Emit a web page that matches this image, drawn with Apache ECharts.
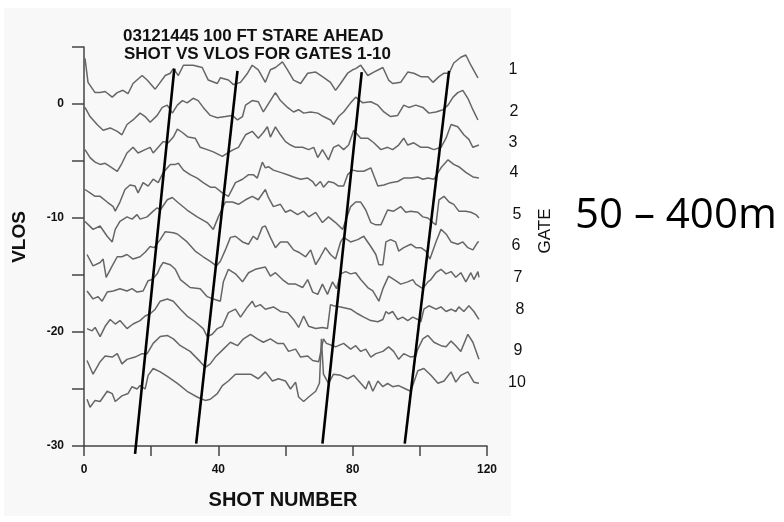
<!DOCTYPE html>
<html>
<head>
<meta charset="utf-8">
<script src="https://cdn.jsdelivr.net/npm/echarts@6/dist/echarts.min.js"></script>
<style>
html,body{margin:0;padding:0;background:#fff;}
#chart{width:784px;height:522px;}
</style>
</head>
<body>
<div id="chart"></div>
<script>
// ---- data: [shot number, VLOS] ----
const titleLines = ['03121445 100 FT STARE AHEAD', 'SHOT VS VLOS FOR GATES 1-10'];
const xTickLabels = [0, 40, 80, 120];
const yTickLabels = [0, -10, -20, -30];
const gateNames = ['1','2','3','4','5','6','7','8','9','10'];

const gate1 = [[0.3,4.0],[1.2,1.9],[3.3,1.0],[4.8,1.0],[6.3,1.1],[8.4,0.6],[9.9,1.0],[11.6,1.2],[13.1,0.9],[14.6,1.8],[17.3,2.5],[18.8,2.1],[21.2,1.3],[22.7,1.9],[24.2,2.5],[25.7,2.7],[26.6,3.1],[28.1,2.5],[29.6,3.4],[32.5,3.4],[35.2,3.2],[37.0,2.1],[39.7,1.8],[40.6,2.3],[43.0,2.1],[44.5,1.7],[46.6,1.9],[48.7,2.7],[50.1,3.4],[51.9,3.0],[54.0,1.9],[55.5,3.0],[57.0,3.2],[59.1,3.7],[60.6,3.0],[62.4,2.1],[64.5,1.8],[66.6,2.7],[69.0,2.8],[71.0,2.4],[73.4,1.9],[74.9,1.2],[76.4,1.8],[78.5,2.7],[80.0,3.0],[80.9,3.1],[82.4,3.4],[84.5,2.5],[86.3,2.8],[89.0,3.2],[90.7,2.1],[91.9,1.8],[94.3,1.9],[96.4,2.8],[98.2,2.7],[100.3,2.4],[102.4,2.4],[103.9,1.9],[105.7,2.4],[107.2,2.7],[108.7,2.7],[110.1,3.6],[112.2,4.1],[113.7,4.3],[115.2,3.4],[117.3,2.3]];
const gate2 = [[0.3,-0.3],[1.8,-1.1],[3.9,-1.8],[5.7,-2.3],[7.8,-2.1],[9.9,-2.4],[11.3,-2.7],[12.8,-1.8],[14.6,-1.4],[16.7,-0.8],[18.2,-1.1],[19.7,-1.6],[21.8,-1.0],[23.3,-0.3],[24.8,-0.1],[26.3,-0.8],[27.8,-0.1],[29.3,0.3],[30.7,0.1],[32.5,0.5],[34.0,0.3],[35.5,-0.3],[37.6,-1.0],[39.7,-1.2],[42.1,-1.1],[44.2,-1.0],[45.7,-1.4],[47.2,-1.1],[48.1,-0.1],[50.1,0.3],[51.9,0.2],[53.4,-0.7],[55.5,0.3],[57.0,1.0],[58.5,0.3],[60.6,-0.3],[62.4,-0.7],[63.9,-0.5],[65.4,-0.8],[67.5,-0.7],[69.6,-0.8],[71.3,-1.1],[73.4,-1.4],[74.3,-1.8],[75.8,-1.1],[77.3,-0.7],[79.4,0.1],[80.9,0.6],[83.0,0.1],[85.4,0.2],[87.5,-0.1],[89.3,-0.7],[91.3,-1.1],[93.4,-1.0],[95.2,-0.1],[96.7,-0.3],[98.8,-0.1],[100.9,-0.3],[102.7,-0.8],[104.8,-0.7],[106.9,-0.5],[108.4,-0.1],[109.9,0.6],[111.3,1.0],[112.8,1.2],[114.3,0.5],[115.8,-0.5],[117.3,-1.4]];
const gate3 = [[0.3,-4.0],[1.8,-4.7],[3.3,-5.1],[4.8,-5.3],[6.3,-5.2],[7.8,-5.5],[9.9,-5.9],[11.3,-5.2],[12.8,-4.3],[14.6,-3.8],[16.1,-4.3],[18.2,-4.0],[19.7,-3.8],[20.6,-4.3],[22.1,-3.8],[23.6,-3.3],[25.1,-3.4],[26.6,-2.9],[27.8,-2.2],[29.3,-2.5],[31.0,-2.9],[33.1,-3.0],[34.6,-3.8],[36.7,-4.0],[38.5,-4.2],[41.2,-4.6],[42.7,-4.3],[44.5,-4.0],[46.0,-3.8],[48.1,-2.7],[50.1,-2.4],[51.9,-3.0],[53.4,-2.5],[54.6,-2.0],[55.5,-2.9],[57.0,-2.0],[58.5,-2.7],[60.0,-3.3],[61.5,-3.6],[63.0,-3.8],[65.1,-3.8],[66.9,-4.0],[68.4,-3.8],[69.6,-4.7],[71.0,-4.0],[72.8,-4.9],[74.3,-3.8],[75.8,-3.6],[77.3,-4.0],[78.8,-3.6],[80.3,-2.3],[82.4,-3.0],[84.5,-3.0],[86.3,-3.4],[88.4,-4.0],[90.4,-3.8],[91.9,-4.0],[93.7,-3.6],[95.2,-3.0],[96.4,-3.6],[98.2,-3.4],[100.3,-3.8],[102.4,-3.8],[104.2,-4.0],[106.3,-3.8],[107.8,-3.0],[109.3,-1.8],[111.3,-2.0],[113.1,-2.7],[114.6,-3.1],[115.8,-3.8],[117.6,-3.6]];
const gate4 = [[0.3,-7.5],[1.8,-7.8],[3.3,-8.1],[4.8,-8.1],[6.9,-8.6],[8.7,-9.0],[9.3,-9.4],[10.7,-8.6],[12.2,-7.5],[13.7,-7.1],[15.2,-7.2],[16.1,-7.8],[17.6,-6.9],[19.1,-7.2],[20.6,-6.6],[22.1,-6.9],[23.6,-6.0],[25.7,-5.3],[27.2,-5.3],[28.1,-5.2],[29.6,-5.8],[31.6,-6.2],[33.7,-6.5],[35.5,-6.9],[37.6,-7.3],[39.1,-7.3],[41.2,-7.8],[43.0,-8.1],[45.1,-6.9],[47.2,-6.6],[49.0,-6.2],[50.4,-6.2],[51.6,-6.5],[53.1,-5.1],[54.0,-5.6],[54.9,-5.5],[56.4,-5.8],[58.5,-6.0],[60.6,-6.2],[62.4,-6.4],[64.5,-6.6],[66.6,-6.5],[68.1,-6.8],[69.0,-7.2],[70.4,-6.8],[71.3,-7.3],[72.8,-6.8],[74.3,-6.9],[75.8,-7.2],[77.3,-7.2],[78.5,-6.2],[80.0,-5.8],[81.5,-5.9],[83.3,-5.9],[85.4,-5.6],[87.5,-7.2],[89.3,-7.1],[91.3,-6.9],[93.4,-6.8],[95.2,-6.5],[97.3,-6.5],[99.4,-6.4],[100.9,-6.6],[102.4,-6.5],[104.2,-6.6],[106.3,-5.6],[108.4,-4.9],[110.1,-5.3],[111.6,-5.5],[113.7,-6.0],[115.8,-6.4],[117.6,-6.5]];
const gate5 = [[0.3,-10.3],[2.7,-11.0],[4.8,-10.7],[6.9,-11.6],[8.4,-12.1],[9.3,-11.0],[10.7,-10.3],[12.8,-9.9],[14.3,-10.1],[15.8,-9.7],[16.7,-10.1],[18.8,-9.9],[20.6,-9.4],[21.8,-9.1],[22.7,-9.3],[24.8,-8.4],[26.3,-8.2],[27.8,-8.6],[30.7,-9.3],[33.7,-9.9],[36.7,-10.4],[38.5,-11.0],[40.0,-9.9],[42.1,-8.6],[44.2,-8.6],[46.0,-8.8],[48.1,-8.4],[50.1,-8.1],[51.9,-8.4],[54.0,-7.5],[54.9,-8.2],[56.4,-9.0],[58.5,-8.8],[60.0,-9.5],[61.5,-9.3],[63.6,-9.7],[65.4,-9.4],[66.9,-9.9],[69.0,-9.5],[71.0,-10.4],[72.8,-9.9],[74.9,-10.4],[77.0,-11.0],[79.4,-9.0],[80.9,-8.6],[82.4,-8.6],[83.9,-9.3],[85.4,-10.4],[86.9,-10.6],[88.4,-10.6],[90.4,-9.3],[92.2,-9.4],[94.3,-9.0],[95.8,-9.5],[97.3,-9.4],[99.4,-9.5],[100.9,-9.9],[102.4,-10.0],[103.9,-10.4],[104.8,-10.6],[105.7,-8.4],[107.2,-8.1],[108.7,-8.6],[110.1,-8.8],[111.6,-9.4],[113.7,-9.4],[115.2,-9.5],[116.7,-9.7],[117.6,-10.0]];
const gate6 = [[0.9,-13.2],[2.7,-14.2],[4.8,-13.9],[5.7,-13.6],[6.6,-15.2],[8.4,-14.2],[9.9,-13.4],[11.3,-13.4],[12.8,-13.2],[14.6,-13.6],[16.7,-13.4],[18.2,-13.0],[19.7,-12.5],[20.9,-12.6],[22.7,-11.9],[24.2,-11.2],[26.6,-11.3],[27.8,-11.4],[30.7,-12.1],[33.1,-12.9],[35.5,-13.4],[37.6,-13.8],[39.4,-14.2],[40.6,-13.8],[42.1,-12.8],[43.6,-11.7],[45.1,-11.6],[47.2,-12.1],[49.0,-12.3],[50.4,-11.6],[51.6,-11.9],[53.1,-10.8],[54.0,-10.7],[55.5,-11.7],[57.0,-12.6],[58.5,-12.1],[60.6,-12.1],[62.4,-12.8],[63.9,-13.0],[66.0,-13.4],[67.5,-12.8],[69.0,-14.1],[70.4,-13.4],[71.9,-12.6],[73.4,-13.2],[74.9,-13.6],[76.4,-12.1],[77.3,-11.7],[79.4,-12.1],[81.5,-11.9],[83.3,-11.6],[85.4,-12.5],[86.9,-13.2],[87.8,-14.1],[89.0,-14.1],[89.9,-12.1],[91.3,-11.9],[92.8,-12.1],[93.7,-12.9],[95.2,-12.6],[97.3,-12.3],[98.8,-12.6],[100.3,-12.6],[101.8,-12.9],[103.0,-13.6],[104.8,-12.1],[106.3,-11.0],[107.8,-11.4],[109.3,-12.1],[111.3,-12.3],[112.8,-12.1],[114.3,-12.6],[115.8,-12.8],[117.3,-12.1],[117.6,-12.1]];
const gate7 = [[0.9,-16.4],[2.7,-17.1],[4.2,-16.9],[5.4,-17.3],[6.9,-16.5],[8.7,-16.4],[10.7,-16.2],[12.8,-16.4],[14.3,-16.2],[15.8,-16.5],[17.6,-16.4],[19.1,-15.5],[20.3,-15.4],[21.8,-14.9],[22.7,-14.3],[23.6,-13.9],[25.7,-14.1],[27.2,-14.5],[28.7,-15.4],[31.6,-16.1],[34.6,-16.2],[36.7,-16.9],[38.5,-17.1],[40.6,-17.3],[41.5,-15.6],[43.0,-14.5],[45.1,-14.9],[47.2,-15.6],[49.0,-14.8],[51.0,-14.5],[54.0,-14.3],[55.5,-15.1],[57.0,-14.8],[59.1,-15.4],[60.9,-15.8],[63.0,-15.8],[65.1,-16.1],[66.6,-15.4],[68.1,-16.5],[69.6,-16.7],[71.0,-15.8],[72.5,-16.7],[74.0,-15.6],[75.2,-16.2],[76.4,-14.9],[77.9,-14.7],[79.4,-14.9],[80.9,-14.8],[82.4,-15.4],[84.5,-16.1],[86.0,-16.4],[87.8,-17.3],[89.0,-16.2],[90.7,-15.1],[92.8,-15.5],[94.3,-15.8],[96.4,-15.6],[97.9,-15.4],[98.8,-15.8],[100.9,-16.2],[102.4,-15.6],[103.3,-15.4],[104.8,-14.8],[106.3,-14.5],[107.8,-14.9],[109.3,-14.7],[110.7,-15.2],[112.2,-14.8],[113.7,-15.6],[115.2,-14.8],[116.1,-15.4],[117.3,-14.7],[117.6,-15.2]];
const gate8 = [[0.9,-19.7],[2.4,-19.9],[3.3,-19.6],[4.8,-20.4],[6.3,-19.5],[7.8,-18.9],[9.3,-19.3],[10.7,-19.0],[12.8,-19.7],[14.6,-19.3],[16.7,-19.0],[18.2,-18.6],[19.7,-18.4],[21.2,-18.0],[22.7,-17.3],[24.8,-17.1],[26.6,-17.3],[28.7,-18.0],[30.7,-18.6],[33.1,-19.1],[35.5,-19.7],[36.7,-20.4],[38.2,-20.2],[39.7,-19.7],[41.2,-19.5],[43.0,-18.3],[45.1,-18.0],[46.6,-18.7],[48.7,-17.8],[50.1,-17.3],[51.0,-17.8],[52.5,-17.6],[54.0,-18.0],[56.4,-17.8],[58.5,-18.2],[60.6,-18.3],[62.4,-18.9],[63.9,-19.6],[65.4,-18.6],[66.9,-19.5],[69.0,-19.7],[71.0,-19.6],[72.5,-19.7],[73.4,-17.6],[74.3,-17.7],[76.4,-17.8],[79.4,-18.0],[81.5,-18.4],[83.3,-18.7],[85.4,-19.0],[87.5,-19.1],[89.0,-18.9],[89.9,-18.2],[90.7,-18.4],[91.9,-18.2],[93.4,-18.9],[94.9,-18.7],[96.4,-19.0],[97.9,-18.7],[99.4,-18.9],[100.3,-19.1],[101.2,-18.0],[102.7,-17.7],[104.8,-18.0],[106.3,-17.8],[107.8,-18.2],[109.3,-18.0],[110.7,-18.2],[111.6,-17.8],[113.1,-18.2],[114.6,-17.7],[116.1,-18.2],[117.6,-18.9]];
const gate9 = [[0.9,-22.5],[2.7,-23.7],[4.8,-22.6],[6.3,-22.1],[8.4,-22.2],[9.9,-21.9],[11.3,-22.8],[12.8,-22.4],[15.2,-22.2],[17.3,-21.9],[18.8,-21.9],[20.6,-21.0],[22.7,-20.4],[24.8,-20.3],[26.6,-20.6],[28.7,-21.2],[31.6,-21.7],[34.6,-22.6],[36.1,-23.1],[37.6,-22.8],[39.1,-22.2],[41.5,-21.5],[43.6,-20.9],[45.7,-21.2],[47.5,-20.6],[49.6,-20.2],[51.6,-20.6],[53.4,-20.9],[55.5,-20.6],[57.6,-21.0],[59.4,-21.0],[60.9,-21.7],[63.0,-21.5],[64.5,-22.2],[66.6,-22.1],[68.1,-22.5],[69.9,-22.6],[71.3,-20.6],[72.2,-21.0],[74.9,-21.3],[77.3,-21.0],[79.4,-21.5],[80.9,-21.2],[82.4,-21.7],[83.9,-21.5],[85.4,-22.2],[86.9,-21.9],[89.0,-21.7],[90.7,-21.3],[92.2,-21.7],[93.7,-22.4],[95.2,-21.9],[97.3,-22.2],[98.8,-22.1],[99.4,-21.5],[100.9,-20.6],[102.4,-20.3],[104.2,-20.9],[106.3,-21.2],[107.8,-21.3],[109.3,-20.8],[110.7,-21.2],[112.2,-21.7],[114.3,-20.2],[115.8,-20.9],[117.6,-22.4]];
const gate10 = [[0.9,-25.9],[1.8,-26.6],[3.3,-26.0],[4.8,-26.1],[6.9,-25.2],[8.4,-25.4],[9.3,-26.1],[11.3,-25.6],[13.1,-25.4],[14.3,-24.8],[15.8,-25.0],[16.7,-24.7],[18.2,-25.0],[19.1,-23.8],[20.6,-23.2],[22.7,-23.5],[24.8,-23.9],[27.8,-24.5],[30.7,-25.2],[33.7,-25.7],[35.2,-25.9],[36.1,-26.0],[37.6,-25.9],[39.7,-25.4],[41.2,-24.7],[43.0,-24.3],[45.1,-23.7],[47.5,-23.7],[49.6,-23.7],[51.9,-24.1],[54.0,-23.5],[56.1,-24.3],[57.9,-24.1],[60.0,-24.3],[61.5,-25.0],[63.0,-24.4],[63.9,-25.7],[65.4,-26.1],[66.9,-25.7],[69.0,-25.2],[70.1,-24.5],[70.7,-20.6],[71.3,-23.7],[72.8,-24.5],[74.3,-23.7],[76.4,-23.8],[78.5,-24.1],[80.3,-23.8],[82.4,-24.5],[83.9,-25.0],[84.8,-24.3],[86.0,-25.2],[87.5,-24.3],[89.0,-24.8],[90.4,-24.5],[91.9,-24.8],[93.7,-24.7],[95.8,-25.0],[97.3,-25.2],[99.4,-23.4],[101.2,-23.2],[103.3,-23.8],[105.4,-24.5],[107.2,-24.3],[109.3,-23.5],[110.7,-24.4],[112.2,-23.8],[114.3,-23.5],[116.1,-24.4],[117.6,-24.5]];
const gates = [gate1, gate2, gate3, gate4, gate5, gate6, gate7, gate8, gate9, gate10];

// slanted guide lines drawn over the traces: [top, bottom] in [shot, VLOS]
const guide1 = [[26.9, 3.1], [15.2, -30.7]];
const guide2 = [[45.7, 2.9], [33.4, -29.8]];
const guide3 = [[82.7, 2.8], [71.0, -29.8]];
const guide4 = [[108.7, 2.9], [95.5, -29.8]];
const guides = [guide1, guide2, guide3, guide4];

// ---- chart ----
const chart = echarts.init(document.getElementById('chart'), null, {renderer: 'canvas'});
const tickFont = {fontFamily: 'Liberation Sans, Arial, sans-serif', fontWeight: 'bold', fontSize: 12, color: '#111'};

const series = [];
gates.forEach((g, i) => {
  series.push({
    name: 'Gate ' + gateNames[i], type: 'line', data: g, symbol: 'none', smooth: false,
    lineStyle: {color: '#666', width: 1.5}, silent: true, z: 2
  });
});
guides.forEach((g, i) => {
  series.push({
    name: 'guide' + (i + 1), type: 'line', data: g, symbol: 'none', clip: false,
    lineStyle: {color: '#000', width: 2.6}, silent: true, z: 5
  });
});

const gateLabelY = [70, 112, 143, 173, 215, 246, 278, 310, 351, 383];
const gateLabelX = [513, 514, 513, 514, 517, 516, 518, 520, 518, 517];
const graphics = [
  {type: 'rect', shape: {x: 4, y: 8, width: 507, height: 508}, style: {fill: '#f8f8f8'}, z: -10, silent: true},
  {type: 'text', x: 123, y: 36, style: {text: titleLines[0], font: 'bold 17px "Liberation Sans", Arial, sans-serif', fill: '#111', textAlign: 'left', textVerticalAlign: 'middle'}},
  {type: 'text', x: 124, y: 54, style: {text: titleLines[1], font: 'bold 17px "Liberation Sans", Arial, sans-serif', fill: '#111', textAlign: 'left', textVerticalAlign: 'middle'}},
  {type: 'text', x: 20, y: 237, rotation: Math.PI / 2, style: {text: 'VLOS', font: 'bold 19px "Liberation Sans", Arial, sans-serif', fill: '#111', textAlign: 'center', textVerticalAlign: 'middle'}},
  {type: 'text', x: 283, y: 500, style: {text: 'SHOT NUMBER', font: 'bold 20px "Liberation Sans", Arial, sans-serif', fill: '#111', textAlign: 'center', textVerticalAlign: 'middle'}},
  {type: 'text', x: 545, y: 231, rotation: Math.PI / 2, style: {text: 'GATE', font: '17px "Liberation Sans", Arial, sans-serif', fill: '#111', textAlign: 'center', textVerticalAlign: 'middle'}},
  {type: 'text', x: 575, y: 216, style: {text: '50 – 400m', font: '42px "Open Sans", "Noto Sans", sans-serif', fill: '#000', textAlign: 'left', textVerticalAlign: 'middle'}}
];
gateNames.forEach((n, i) => {
  graphics.push({type: 'text', x: gateLabelX[i], y: gateLabelY[i], style: {text: n, font: '16px "Liberation Sans", Arial, sans-serif', fill: '#111', textAlign: 'center', textVerticalAlign: 'middle'}});
});

chart.setOption({
  animation: false,
  backgroundColor: '#ffffff',
  grid: {left: 84, right: 297, top: 47, bottom: 76, containLabel: false},
  xAxis: {
    type: 'value', min: 0, max: 120, interval: 20,
    axisLine: {show: true, onZero: false, lineStyle: {color: '#444', width: 1.5}},
    axisTick: {show: true, length: 10, lineStyle: {color: '#444', width: 1.5}},
    axisLabel: Object.assign({margin: 18, formatter: v => xTickLabels.indexOf(v) >= 0 ? String(v) : ''}, tickFont),
    splitLine: {show: false}
  },
  yAxis: {
    type: 'value', min: -30, max: 5, interval: 5,
    axisLine: {show: true, onZero: false, lineStyle: {color: '#444', width: 1.5}},
    axisTick: {show: true, length: 12, lineStyle: {color: '#444', width: 1.5}},
    axisLabel: Object.assign({margin: 20, formatter: v => yTickLabels.indexOf(v) >= 0 ? String(v) : ''}, tickFont),
    splitLine: {show: false}
  },
  series: series,
  graphic: graphics
});
</script>
</body>
</html>
